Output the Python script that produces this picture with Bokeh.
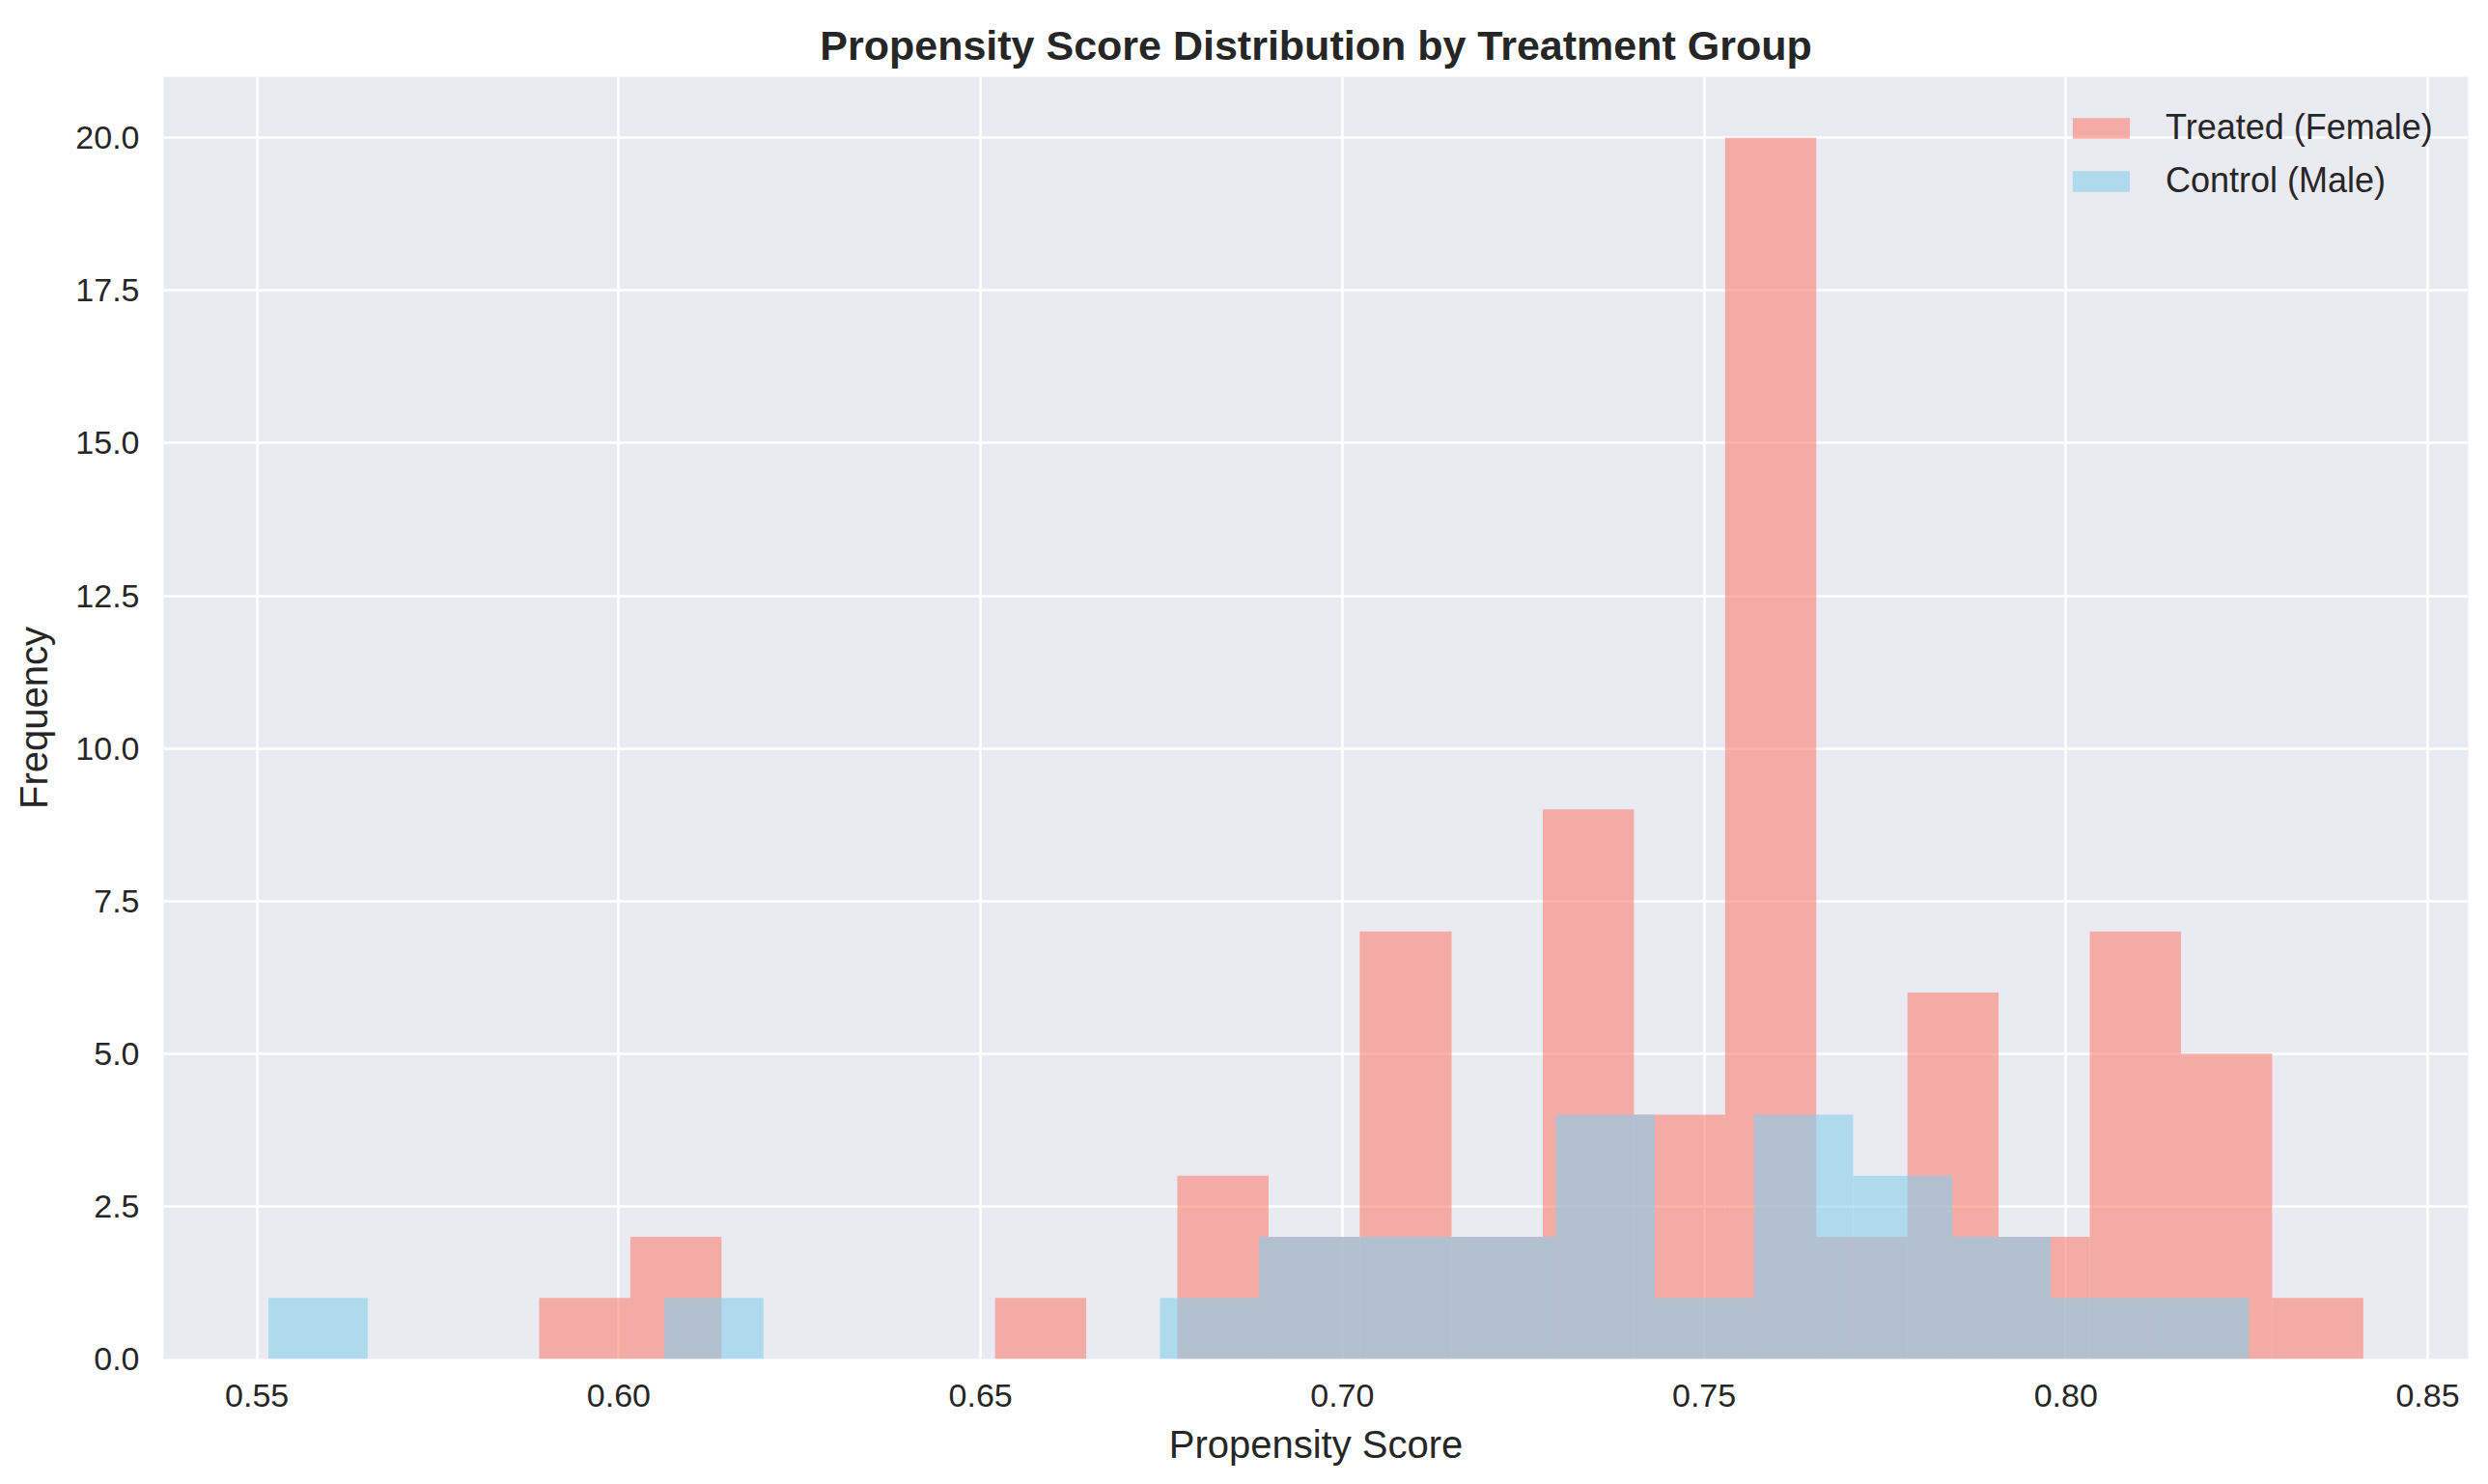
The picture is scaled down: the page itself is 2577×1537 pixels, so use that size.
from bokeh.plotting import figure
from bokeh.models import FixedTicker, PrintfTickFormatter, Range1d, Legend, LegendItem
from bokeh.embed import file_html
from bokeh.resources import INLINE

# ---- data ----
treated_edges = [0.5890, 0.6016, 0.6142, 0.6268, 0.6394, 0.6520, 0.6646, 0.6772, 0.6898, 0.7024,
                 0.7151, 0.7277, 0.7403, 0.7529, 0.7655, 0.7781, 0.7907, 0.8033, 0.8159, 0.8285, 0.8411]
treated_counts = [1, 2, 0, 0, 0, 1, 0, 3, 2, 7, 2, 9, 4, 20, 2, 6, 2, 7, 5, 1]

control_edges = [0.5516, 0.5653, 0.5790, 0.5927, 0.6063, 0.6200, 0.6337, 0.6474, 0.6611, 0.6748,
                 0.6885, 0.7021, 0.7158, 0.7295, 0.7432, 0.7569, 0.7706, 0.7843, 0.7979, 0.8116, 0.8253]
control_counts = [1, 0, 0, 0, 1, 0, 0, 0, 0, 1, 2, 2, 2, 4, 1, 4, 3, 2, 1, 1]

x_ticks = [0.55, 0.60, 0.65, 0.70, 0.75, 0.80, 0.85]
y_ticks = [0.0, 2.5, 5.0, 7.5, 10.0, 12.5, 15.0, 17.5, 20.0]

title_text = "Propensity Score Distribution by Treatment Group"
x_label = "Propensity Score"
y_label = "Frequency"
treated_label = "Treated (Female)"
control_label = "Control (Male)"

FONT = "Liberation Sans"
TXT = "#262626"

p = figure(width=2569, height=1529, output_backend="svg", toolbar_location=None,
           x_range=Range1d(0.5371, 0.8556), y_range=Range1d(0, 21),
           min_border_left=169, min_border_right=13, min_border_top=79, min_border_bottom=122)

p.title.text = title_text
p.title.align = "center"
p.title.text_font = FONT
p.title.text_font_size = "43px"
p.title.text_font_style = "bold"
p.title.text_color = TXT
p.title.standoff = 17

p.background_fill_color = "#EAEAF2"
p.border_fill_color = "white"
p.outline_line_color = None

for g in (p.xgrid, p.ygrid):
    g.grid_line_color = "white"
    g.grid_line_width = 2.5
p.xgrid.ticker = FixedTicker(ticks=x_ticks)
p.ygrid.ticker = FixedTicker(ticks=y_ticks)

p.xaxis.ticker = FixedTicker(ticks=x_ticks)
p.yaxis.ticker = FixedTicker(ticks=y_ticks)
p.xaxis.formatter = PrintfTickFormatter(format="%.2f")
p.yaxis.formatter = PrintfTickFormatter(format="%.1f")

for ax in (p.xaxis[0], p.yaxis[0]):
    ax.axis_line_color = None
    ax.major_tick_line_color = None
    ax.minor_tick_line_color = None
    ax.major_tick_out = 0
    ax.major_tick_in = 0
    ax.major_label_text_font = FONT
    ax.major_label_text_font_size = "34px"
    ax.major_label_text_color = TXT
    ax.axis_label_text_font = FONT
    ax.axis_label_text_font_size = "40px"
    ax.axis_label_text_font_style = "normal"
    ax.axis_label_text_color = TXT

p.xaxis.axis_label = x_label
p.yaxis.axis_label = y_label
p.xaxis.major_label_standoff = 26
p.yaxis.major_label_standoff = 25
p.xaxis.axis_label_standoff = 14
p.yaxis.axis_label_standoff = 18

r_t = p.quad(left=treated_edges[:-1], right=treated_edges[1:], bottom=0, top=treated_counts,
             fill_color="salmon", fill_alpha=0.6, line_color=None)
r_c = p.quad(left=control_edges[:-1], right=control_edges[1:], bottom=0, top=control_counts,
             fill_color="skyblue", fill_alpha=0.6, line_color=None)

legend = Legend(items=[LegendItem(label=treated_label, renderers=[r_t]),
                       LegendItem(label=control_label, renderers=[r_c])],
                location="top_right", margin=32, padding=0,
                glyph_width=74, glyph_height=27, label_standoff=30, label_width=281,
                spacing=13, background_fill_alpha=0, border_line_color=None,
                label_text_font=FONT, label_text_font_size="36px", label_text_color=TXT)
p.add_layout(legend)

open("out.html", "w").write(file_html(p, INLINE))
